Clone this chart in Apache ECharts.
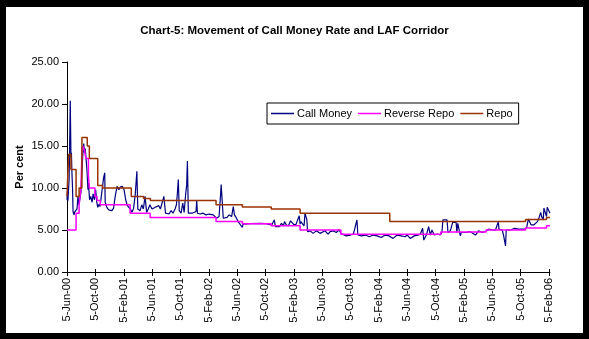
<!DOCTYPE html>
<html>
<head>
<meta charset="utf-8">
<script src="https://cdn.jsdelivr.net/npm/echarts@6/dist/echarts.min.js"></script>
<style>
  html, body { margin: 0; padding: 0; background: #000; }
  #chart { width: 589px; height: 339px; }
</style>
</head>
<body>
<div id="chart"></div>
<script>
// Axis tick labels (dates on the horizontal axis, every four months)
const tickLabels = ['5-Jun-00','5-Oct-00','5-Feb-01','5-Jun-01','5-Oct-01','5-Feb-02','5-Jun-02','5-Oct-02','5-Feb-03',
  '5-Jun-03','5-Oct-03','5-Feb-04','5-Jun-04','5-Oct-04','5-Feb-05','5-Jun-05','5-Oct-05','5-Feb-06'];
const yTicks = [0, 5, 10, 15, 20, 25];
const seriesNames = ['Call Money', 'Reverse Repo', 'Repo'];

// Call money rate (per cent)
const callMoney = [
  ['2000-06-05', 8.6], ['2000-06-07', 9.6], ['2000-06-09', 8.5], ['2000-06-14', 11.0], ['2000-06-16', 14.2],
  ['2000-06-19', 20.4], ['2000-06-22', 13.7], ['2000-06-24', 14.2], ['2000-06-26', 12.0], ['2000-06-29', 9.8],
  ['2000-07-01', 7.2], ['2000-07-05', 6.8], ['2000-07-09', 7.2], ['2000-07-13', 7.0], ['2000-07-18', 7.5],
  ['2000-07-22', 9.0], ['2000-07-26', 8.0], ['2000-07-30', 8.2], ['2000-08-04', 9.5], ['2000-08-09', 12.5],
  ['2000-08-13', 14.5], ['2000-08-16', 15.3], ['2000-08-19', 14.2], ['2000-08-22', 14.7], ['2000-08-26', 13.5],
  ['2000-08-30', 12.0], ['2000-09-03', 9.8], ['2000-09-05', 10.6], ['2000-09-10', 8.6], ['2000-09-15', 9.0],
  ['2000-09-21', 8.3], ['2000-09-25', 9.3], ['2000-10-01', 8.6], ['2000-10-06', 9.8], ['2000-10-11', 8.3],
  ['2000-10-15', 7.7], ['2000-10-21', 8.1], ['2000-10-25', 7.8], ['2000-11-02', 8.0], ['2000-11-09', 11.2],
  ['2000-11-14', 11.8], ['2000-11-16', 8.3], ['2000-11-23', 7.7], ['2000-12-01', 7.4], ['2000-12-08', 7.5],
  ['2000-12-15', 7.3], ['2000-12-22', 7.6], ['2000-12-29', 9.0], ['2001-01-06', 10.2], ['2001-01-14', 9.8],
  ['2001-01-19', 10.1], ['2001-01-28', 10.2], ['2001-02-05', 9.8], ['2001-02-12', 8.6], ['2001-02-19', 7.9],
  ['2001-02-26', 8.1], ['2001-03-04', 7.5], ['2001-03-11', 7.1], ['2001-03-18', 7.6], ['2001-03-25', 9.2],
  ['2001-04-01', 12.0], ['2001-04-05', 7.5], ['2001-04-15', 7.3], ['2001-04-22', 8.0], ['2001-04-29', 7.5],
  ['2001-05-06', 9.0], ['2001-05-13', 7.1], ['2001-05-20', 7.5], ['2001-05-27', 8.0], ['2001-06-05', 7.5],
  ['2001-06-12', 7.3], ['2001-06-19', 7.7], ['2001-06-26', 7.5], ['2001-07-04', 7.9], ['2001-07-11', 7.5],
  ['2001-07-18', 7.3], ['2001-07-26', 9.0], ['2001-08-02', 7.0], ['2001-08-08', 7.2], ['2001-08-17', 6.9],
  ['2001-08-26', 7.3], ['2001-09-03', 7.0], ['2001-09-12', 7.5], ['2001-09-18', 8.0], ['2001-09-22', 9.4],
  ['2001-09-26', 11.0], ['2001-09-30', 7.3], ['2001-10-08', 7.0], ['2001-10-15', 8.2], ['2001-10-21', 7.1],
  ['2001-10-28', 9.4], ['2001-11-01', 10.4], ['2001-11-04', 13.2], ['2001-11-08', 7.0], ['2001-11-15', 6.9],
  ['2001-11-24', 7.0], ['2001-12-02', 6.9], ['2001-12-11', 7.2], ['2001-12-14', 8.5], ['2001-12-17', 7.0],
  ['2001-12-28', 6.9], ['2002-01-10', 7.0], ['2002-01-23', 6.8], ['2002-02-05', 6.9], ['2002-02-13', 7.1],
  ['2002-02-23', 6.8], ['2002-03-03', 6.6], ['2002-03-09', 6.4], ['2002-03-11', 6.2], ['2002-03-20', 6.6],
  ['2002-03-26', 9.0], ['2002-03-29', 10.4], ['2002-04-05', 10.4], ['2002-04-07', 6.4], ['2002-04-15', 6.3],
  ['2002-04-23', 6.5], ['2002-05-02', 6.8], ['2002-05-08', 7.0], ['2002-05-13', 6.6], ['2002-05-20', 7.8],
  ['2002-05-25', 6.8], ['2002-06-01', 6.5], ['2002-06-10', 6.0], ['2002-06-18', 6.2], ['2002-06-28', 5.3],
  ['2002-07-01', 5.7], ['2002-08-01', 5.75], ['2002-09-13', 5.8], ['2002-10-05', 5.75], ['2002-11-01', 5.6],
  ['2002-11-06', 5.6], ['2002-11-12', 6.2], ['2002-11-17', 5.4], ['2002-11-25', 5.6], ['2002-12-04', 5.4],
  ['2002-12-13', 5.8], ['2002-12-21', 5.5], ['2002-12-26', 6.0], ['2003-01-03', 5.6], ['2003-01-12', 5.5],
  ['2003-01-21', 6.1], ['2003-01-29', 6.0], ['2003-02-05', 5.6], ['2003-02-14', 5.7], ['2003-02-27', 6.7],
  ['2003-03-03', 5.7], ['2003-03-06', 6.0], ['2003-03-14', 6.2], ['2003-03-20', 5.5], ['2003-03-24', 7.0],
  ['2003-03-29', 6.8], ['2003-04-01', 6.2], ['2003-04-04', 4.8], ['2003-04-15', 4.9], ['2003-04-28', 4.6],
  ['2003-05-11', 4.9], ['2003-05-28', 4.6], ['2003-06-05', 4.8], ['2003-06-18', 4.9], ['2003-07-01', 4.5],
  ['2003-07-10', 4.8], ['2003-07-23', 4.9], ['2003-08-05', 4.7], ['2003-08-18', 5.0], ['2003-08-25', 4.6],
  ['2003-08-31', 4.4], ['2003-09-17', 4.3], ['2003-10-05', 4.4], ['2003-10-18', 4.5], ['2003-11-02', 6.2],
  ['2003-11-06', 4.4], ['2003-11-21', 4.3], ['2003-12-08', 4.4], ['2003-12-25', 4.2], ['2004-01-11', 4.4],
  ['2004-01-28', 4.3], ['2004-02-14', 4.1], ['2004-03-02', 4.4], ['2004-03-19', 4.3], ['2004-04-05', 4.0],
  ['2004-04-23', 4.4], ['2004-05-10', 4.3], ['2004-05-27', 4.2], ['2004-06-05', 4.4], ['2004-06-18', 4.0],
  ['2004-07-05', 4.3], ['2004-07-22', 4.4], ['2004-07-31', 4.5], ['2004-08-10', 5.2], ['2004-08-15', 3.8],
  ['2004-08-26', 4.4], ['2004-09-05', 5.4], ['2004-09-12', 4.4], ['2004-09-19', 5.0], ['2004-09-29', 4.4],
  ['2004-10-12', 4.5], ['2004-10-25', 4.4], ['2004-11-01', 4.7], ['2004-11-05', 6.2], ['2004-11-23', 6.2],
  ['2004-11-27', 4.7], ['2004-12-07', 4.9], ['2004-12-17', 5.9], ['2005-01-01', 5.9], ['2005-01-04', 4.7],
  ['2005-01-08', 5.8], ['2005-01-15', 5.8], ['2005-01-19', 4.3], ['2005-01-23', 4.7], ['2005-02-10', 4.7],
  ['2005-03-03', 4.8], ['2005-03-25', 4.4], ['2005-04-07', 4.9], ['2005-04-24', 4.7], ['2005-05-11', 4.9],
  ['2005-05-21', 5.1], ['2005-06-06', 5.0], ['2005-06-19', 5.0], ['2005-07-01', 6.0], ['2005-07-04', 5.1],
  ['2005-07-18', 5.0], ['2005-07-24', 4.3], ['2005-08-01', 3.1], ['2005-08-04', 5.0], ['2005-08-23', 5.0],
  ['2005-09-09', 5.2], ['2005-09-26', 5.1], ['2005-10-09', 5.1], ['2005-10-22', 5.1], ['2005-10-31', 5.3],
  ['2005-11-07', 6.3], ['2005-11-13', 6.3], ['2005-11-19', 5.6], ['2005-11-30', 5.6], ['2005-12-08', 5.6],
  ['2005-12-16', 6.0], ['2005-12-21', 6.3], ['2005-12-30', 7.1], ['2006-01-03', 6.6], ['2006-01-10', 6.2],
  ['2006-01-13', 7.6], ['2006-01-20', 7.4], ['2006-01-24', 6.6], ['2006-01-27', 7.7], ['2006-02-03', 7.3],
  ['2006-02-08', 7.0]
];

// Reverse repo rate (lower edge of the LAF corridor), each value holds until the next date
const reverseRepo = [
  ['2000-06-05', 5.0], ['2000-07-14', 7.0], ['2000-07-27', 8.0], ['2000-08-04', 10.0], ['2000-08-08', 14.0],
  ['2000-08-12', 15.0], ['2000-08-19', 14.5], ['2000-08-25', 13.5], ['2000-09-05', 11.5], ['2000-09-09', 10.0],
  ['2000-10-03', 9.0], ['2000-10-12', 8.5], ['2000-10-26', 8.0], ['2001-03-03', 7.0], ['2001-05-28', 6.5],
  ['2002-03-07', 6.0], ['2002-06-28', 5.75], ['2002-10-30', 5.5], ['2003-03-03', 5.0], ['2003-08-25', 4.5],
  ['2004-10-27', 4.75], ['2005-05-10', 5.0], ['2005-10-26', 5.25], ['2006-01-24', 5.5], ['2006-02-08', 5.5]
];

// Repo rate (upper edge of the LAF corridor), each value holds until the next date
const repo = [
  ['2000-06-05', 9.0], ['2000-06-12', 14.0], ['2000-06-22', 12.2], ['2000-07-14', 9.0], ['2000-07-27', 10.0],
  ['2000-08-08', 16.0], ['2000-08-31', 15.0], ['2000-09-09', 13.5], ['2000-10-15', 10.3], ['2000-11-05', 10.0],
  ['2001-03-08', 9.0], ['2001-04-30', 8.75], ['2001-05-29', 8.5], ['2002-03-07', 8.0], ['2002-06-28', 7.75],
  ['2002-10-30', 7.5], ['2003-03-03', 7.0], ['2004-03-22', 6.0], ['2005-10-26', 6.25], ['2006-01-24', 6.5],
  ['2006-02-08', 6.5]
];

const MONTHS = ['Jan','Feb','Mar','Apr','May','Jun','Jul','Aug','Sep','Oct','Nov','Dec'];
const DAY = 86400000;
// Dates are handled as whole days (UTC) on a plain value axis
function isoToDay(s) {
  const p = s.split('-').map(Number);
  return Date.UTC(p[0], p[1] - 1, p[2]) / DAY;
}
function labelToDay(s) {
  const p = s.split('-');
  return Date.UTC(2000 + Number(p[2]), MONTHS.indexOf(p[1]), Number(p[0])) / DAY;
}
function dayToLabel(v) {
  const d = new Date(Math.round(v) * DAY);
  const yy = String(d.getUTCFullYear() % 100).padStart(2, '0');
  return d.getUTCDate() + '-' + MONTHS[d.getUTCMonth()] + '-' + yy;
}
const toPairs = arr => arr.map(r => [isoToDay(r[0]), r[1]]);
const tickDays = tickLabels.map(labelToDay);
const xMin = isoToDay(callMoney[0][0]);
const xMax = isoToDay(callMoney[callMoney.length - 1][0]);

const FONT = '"Liberation Sans", Arial, sans-serif';

const chart = echarts.init(document.getElementById('chart'), null, { renderer: 'canvas' });
chart.setOption({
  backgroundColor: '#000000',
  animation: false,
  graphic: [{
    type: 'rect', z: -10, silent: true,
    shape: { x: 6, y: 7, width: 577, height: 326 },
    style: { fill: '#ffffff' }
  }],
  title: {
    text: 'Chart-5: Movement of Call Money Rate and LAF Corridor',
    left: 'center', top: 20,
    textStyle: { fontFamily: FONT, fontSize: 11.5, fontWeight: 'bold', color: '#000' }
  },
  legend: {
    left: 267, top: 103,
    padding: [5, 6, 5, 4],
    itemGap: 6,
    itemWidth: 23, itemHeight: 1.5,
    borderColor: '#000', borderWidth: 1, backgroundColor: '#fff',
    icon: 'rect',
    textStyle: { fontFamily: FONT, fontSize: 11, color: '#000', padding: [0, 0, 0, -2] },
    data: seriesNames
  },
  grid: { left: 67, right: 39, top: 62, bottom: 67 },
  xAxis: [{
    type: 'value',
    min: xMin, max: xMax,
    splitLine: { show: false },
    axisLine: { onZero: false, lineStyle: { color: '#000', width: 1 } },
    axisTick: { show: true, length: 4, lineStyle: { color: '#000' }, customValues: tickDays },
    axisLabel: {
      customValues: tickDays,
      rotate: 90, margin: 6,
      fontFamily: FONT, fontSize: 11, color: '#000',
      formatter: v => dayToLabel(v)
    }
  }, {
    type: 'value',
    position: 'bottom',
    min: xMin, max: xMax,
    splitLine: { show: false },
    axisLine: { show: false, onZero: false },
    axisLabel: { show: false },
    axisTick: { show: true, inside: true, length: 3, lineStyle: { color: '#000' }, customValues: tickDays }
  }],
  yAxis: {
    type: 'value',
    min: yTicks[0], max: yTicks[yTicks.length - 1], interval: 5,
    name: 'Per cent', nameLocation: 'middle', nameGap: 42, nameRotate: 90, nameMoveOverlap: false,
    nameTextStyle: { fontFamily: FONT, fontSize: 11, fontWeight: 'bold', color: '#000' },
    splitLine: { show: false },
    axisLine: { show: true, onZero: false, lineStyle: { color: '#000', width: 1 } },
    axisTick: { show: true, length: 5, lineStyle: { color: '#000' } },
    axisLabel: { margin: 8, fontFamily: FONT, fontSize: 11, color: '#000', formatter: v => v.toFixed(2) }
  },
  series: [{
    name: seriesNames[0], type: 'line', data: toPairs(callMoney),
    showSymbol: false, symbol: 'none',
    lineStyle: { color: '#000080', width: 1.2 }, itemStyle: { color: '#000080' }
  }, {
    name: seriesNames[1], type: 'line', data: toPairs(reverseRepo), step: 'end',
    showSymbol: false, symbol: 'none',
    lineStyle: { color: '#ff00ff', width: 1.5 }, itemStyle: { color: '#ff00ff' }
  }, {
    name: seriesNames[2], type: 'line', data: toPairs(repo), step: 'end',
    showSymbol: false, symbol: 'none',
    lineStyle: { color: '#993300', width: 1.5 }, itemStyle: { color: '#993300' }
  }]
});
</script>
</body>
</html>
